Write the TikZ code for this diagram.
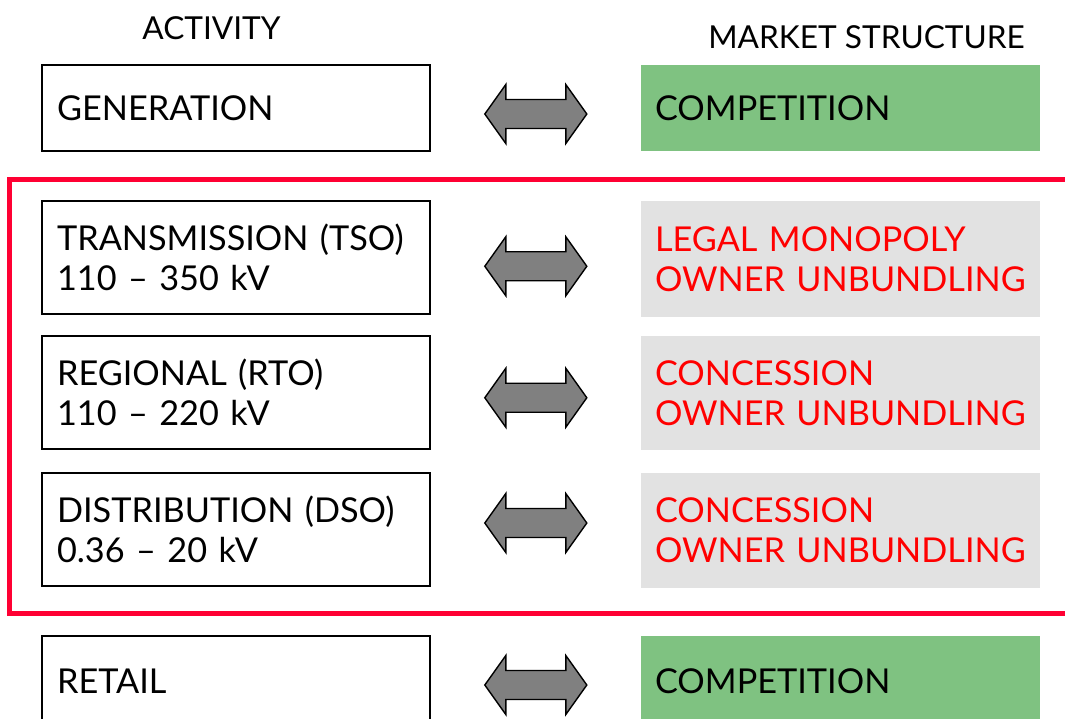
\documentclass[tikz,border=0pt]{standalone}
\usepackage{fontspec}
\setmainfont{Lato}
\usepackage{tikz}
\usetikzlibrary{positioning, calc}

\definecolor{mktgreen}{HTML}{7FC281}
\definecolor{mktgray}{HTML}{E2E2E2}
\definecolor{framered}{HTML}{FF0033}
\definecolor{arrowgray}{HTML}{808080}

\begin{document}
\begin{tikzpicture}[
                                        x=0.02cm, y=-0.02cm,
                                        every node/.style={font=\fontsize{19.5}{22.8}\selectfont},
                                        actbox/.style={rectangle, draw, line width=1.1pt, align=left,
                                                text width=7.16cm, inner xsep=0.3cm, minimum height=2.26cm},
                                        mktbox/.style={rectangle, align=left, text width=7.42cm,
                                                inner xsep=0.28cm, minimum height=2.3cm},
                                        green/.style={mktbox, fill=mktgreen},
                                        gray/.style={mktbox, fill=mktgray, text=red},
                                        head/.style={anchor=base, font=\fontsize{18}{20}\selectfont},
                                        biarrow/.pic={
                                                \draw[fill=arrowgray, line width=0.8pt, line join=miter]
                                                        (-51,0) -- (-30,-29.5) -- (-30,-14.5) -- (30,-14.5) -- (30,-29.5)
                                                        -- (51,0) -- (30,29.5) -- (30,14.5) -- (-30,14.5) -- (-30,29.5) -- cycle;
                                        },
                                ]
                                \useasboundingbox (0,0) rectangle (1065,718);

                                \node[head] (act) at (211.5,39) {ACTIVITY};
                                \node[head] (mkt) at (866.5,48) {MARKET STRUCTURE};

                                % activities
                                \node[actbox, minimum height=1.72cm] (gen) at (236,108) {GENERATION};
                                \node[actbox] (tso) at (236,257.5) {TRANSMISSION (TSO)\\110 -- 350 kV};
                                \node[actbox] (rto) at (236,392.5) {REGIONAL (RTO)\\110 -- 220 kV};
                                \node[actbox] (dso) at (236,529.5) {DISTRIBUTION (DSO)\\0.36 -- 20 kV};
                                \node[actbox, minimum height=1.8cm] (retail) at (236,681) {RETAIL};

                                % market structure
                                \node[green, minimum height=1.72cm] (genmkt) at (840.5,108) {COMPETITION};
                                \node[gray, minimum height=2.32cm] (tsomkt) at (840.5,259) {LEGAL MONOPOLY\\OWNER UNBUNDLING};
                                \node[gray, minimum height=2.28cm] (rtomkt) at (840.5,393) {CONCESSION\\OWNER UNBUNDLING};
                                \node[gray] (dsomkt) at (840.5,530.5) {CONCESSION\\OWNER UNBUNDLING};
                                \node[green, minimum height=1.8cm] (retailmkt) at (840.5,681) {COMPETITION};

                                \foreach \a/\b/\dy in {gen/genmkt/6, tso/tsomkt/8, rto/rtomkt/5, dso/dsomkt/-7, retail/retailmkt/4}
                                        \pic at ($(\a.east)!.5!(\b.west)+(0,\dy)$) {biarrow};

                                % network operators
                                \draw[framered, line width=0.1cm] (1075,179.5) -| (9.5,613) -- (1075,613);
                        \end{tikzpicture}
\end{document}
